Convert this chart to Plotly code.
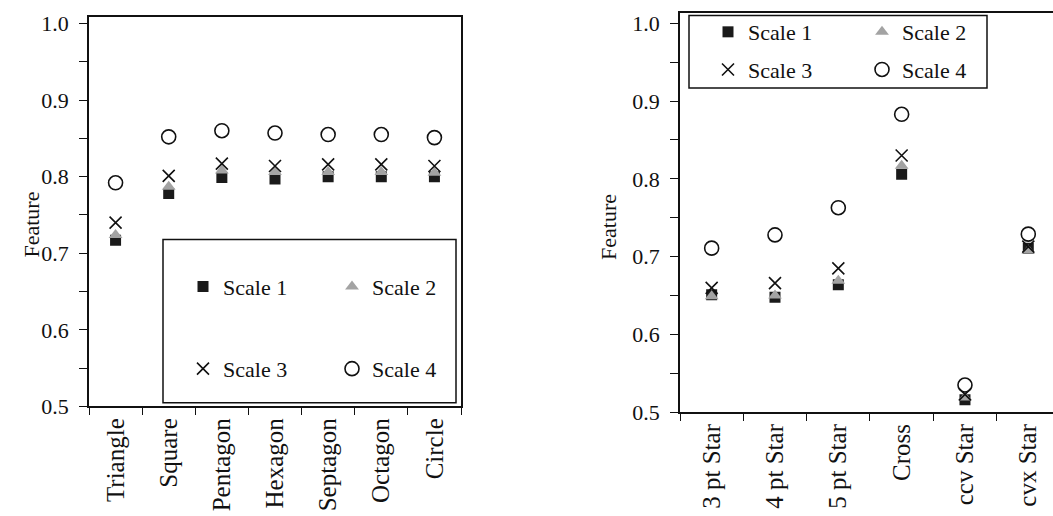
import plotly.graph_objects as go

# Categories for each panel
polygons = ["Triangle", "Square", "Pentagon", "Hexagon", "Septagon", "Octagon", "Circle"]
stars = ["3 pt Star", "4 pt Star", "5 pt Star", "Cross", "ccv Star", "cvx Star"]

# Feature values per scale, polygon shapes
poly_scale1 = [0.717, 0.778, 0.799, 0.797, 0.800, 0.800, 0.800]
poly_scale2 = [0.724, 0.787, 0.808, 0.806, 0.806, 0.806, 0.805]
poly_scale3 = [0.740, 0.801, 0.817, 0.814, 0.816, 0.816, 0.814]
poly_scale4 = [0.792, 0.852, 0.860, 0.857, 0.855, 0.855, 0.851]

# Feature values per scale, star / cross shapes
star_scale1 = [0.651, 0.648, 0.664, 0.806, 0.516, 0.711]
star_scale2 = [0.649, 0.650, 0.669, 0.817, 0.519, 0.708]
star_scale3 = [0.660, 0.666, 0.685, 0.830, 0.523, 0.713]
star_scale4 = [0.711, 0.728, 0.763, 0.883, 0.535, 0.729]

scale_names = ["Scale 1", "Scale 2", "Scale 3", "Scale 4"]

W, H = 1053, 516
FONT = "Liberation Serif"


def px(x):
    return x / W


def py(y):
    return 1 - y / H


marker_styles = [
    dict(symbol="square", size=11, color="#1a1a1a", line=dict(width=0)),
    dict(symbol="triangle-up", size=12, color="#a3a3a3", line=dict(width=0)),
    dict(symbol="x-thin", size=12, color="rgba(0,0,0,0)", line=dict(width=1.6, color="#111")),
    dict(symbol="circle-open", size=14, color="#111", line=dict(width=1.6)),
]

fig = go.Figure()

left_sets = [poly_scale1, poly_scale2, poly_scale3, poly_scale4]
right_sets = [star_scale1, star_scale2, star_scale3, star_scale4]
left_legends = ["legend", "legend", "legend2", "legend2"]
right_legends = ["legend3", "legend3", "legend4", "legend4"]

for i, name in enumerate(scale_names):
    fig.add_trace(go.Scatter(
        x=polygons, y=left_sets[i], mode="markers", name=name,
        marker=marker_styles[i], xaxis="x", yaxis="y",
        legend=left_legends[i], showlegend=True,
    ))
for i, name in enumerate(scale_names):
    fig.add_trace(go.Scatter(
        x=stars, y=right_sets[i], mode="markers", name=name,
        marker=marker_styles[i], xaxis="x2", yaxis="y2",
        legend=right_legends[i], showlegend=True,
    ))

xtickfont = dict(family=FONT, size=25, color="#111")
ytickfont = dict(family=FONT, size=22, color="#111")

common_x = dict(
    type="category", tickson="boundaries", ticks="outside", ticklen=7,
    tickwidth=1.3, tickcolor="#111", showline=True, linecolor="#111",
    linewidth=1.5, showgrid=False, zeroline=False, tickangle=-90,
    tickfont=xtickfont, fixedrange=True,
)
common_y = dict(
    dtick=0.1, tick0=0.5, tickformat=".1f", ticks="outside", ticklen=8,
    tickwidth=1.3, tickcolor="#111", showline=True, linecolor="#111",
    linewidth=1.5, showgrid=False, zeroline=False, tickfont=ytickfont,
    ticklabelstandoff=6,
    minor=dict(dtick=0.05, ticks="outside", ticklen=8, tickwidth=1.3,
               tickcolor="#111", showgrid=False),
)

fig.update_layout(
    width=W, height=H,
    margin=dict(l=0, r=0, t=0, b=0),
    paper_bgcolor="white", plot_bgcolor="white",
    font=dict(family=FONT, size=22, color="#111"),
    xaxis=dict(common_x, domain=[px(89), px(461)], range=[-0.5, 6.5],
               anchor="y", mirror=True),
    yaxis=dict(common_y, domain=[py(416), py(12)], range=[0.5, 1.009],
               anchor="x", mirror=True),
    xaxis2=dict(common_x, domain=[px(680), 1.0], range=[-0.5, 5.39],
                anchor="y2", mirror=True),
    yaxis2=dict(common_y, domain=[py(422), py(8)], range=[0.5, 1.0136],
                anchor="x2", mirror=False),
)

legend_common = dict(
    orientation="h", xanchor="left", yanchor="middle",
    bgcolor="rgba(0,0,0,0)", borderwidth=0,
    font=dict(family=FONT, size=22, color="#111"),
    itemclick=False, itemdoubleclick=False, entrywidthmode="pixels",
)
fig.update_layout(
    legend=dict(legend_common, x=px(183), y=py(292), entrywidth=104),
    legend2=dict(legend_common, x=px(183), y=py(377), entrywidth=104),
    legend3=dict(legend_common, x=px(708), y=py(28), entrywidth=109),
    legend4=dict(legend_common, x=px(708), y=py(67), entrywidth=109),
)

# Legend frames
for (x0, y0, x1, y1) in [(163, 243, 456, 412), (689, 11, 987, 86)]:
    fig.add_shape(type="rect", xref="paper", yref="paper",
                  x0=px(x0), x1=px(x1), y0=py(y1), y1=py(y0),
                  line=dict(color="#111", width=1.5), fillcolor="rgba(0,0,0,0)")

# Y-axis titles
for xp, yp in [(17, 228), (609, 230)]:
    fig.add_annotation(text="Feature", xref="paper", yref="paper",
                       x=px(xp), y=py(yp), showarrow=False, textangle=-90,
                       font=dict(family=FONT, size=22, color="#111"))

fig.write_html("out.html")
